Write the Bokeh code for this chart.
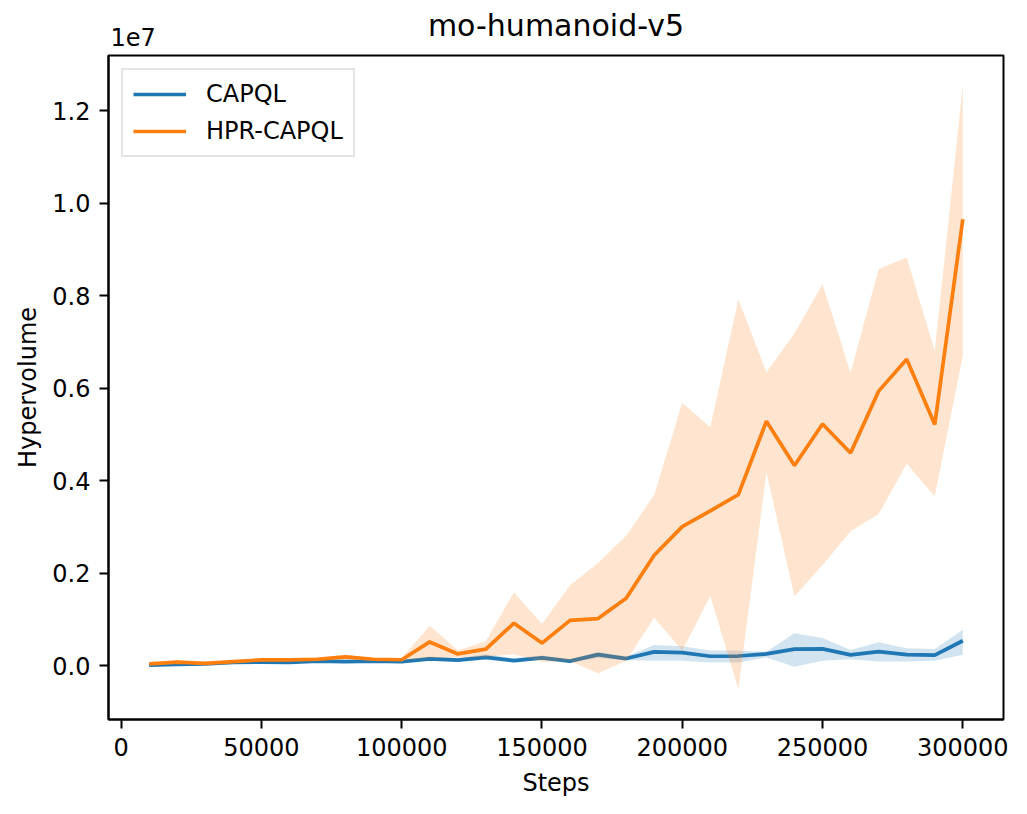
from bokeh.plotting import figure
from bokeh.models import Range1d, FixedTicker, Legend, LegendItem, Title
from bokeh.embed import file_html
from bokeh.resources import INLINE

# ---- data (hypervolume in millions) ----
steps = [10000, 20000, 30000, 40000, 50000, 60000, 70000, 80000, 90000, 100000,
         110000, 120000, 130000, 140000, 150000, 160000, 170000, 180000, 190000, 200000,
         210000, 220000, 230000, 240000, 250000, 260000, 270000, 280000, 290000, 300000]

capql_mean = [0.01, 0.03, 0.04, 0.07, 0.08, 0.07, 0.10, 0.09, 0.10, 0.09,
              0.15, 0.12, 0.18, 0.11, 0.17, 0.10, 0.24, 0.155, 0.30, 0.285,
              0.205, 0.21, 0.255, 0.36, 0.365, 0.235, 0.305, 0.24, 0.23, 0.54]
capql_low = [0.00, 0.01, 0.02, 0.05, 0.06, 0.05, 0.08, 0.07, 0.08, 0.07,
             0.11, 0.09, 0.13, 0.07, 0.13, 0.07, 0.17, 0.12, 0.11, 0.11,
             0.07, 0.07, 0.18, -0.02, 0.11, 0.14, 0.09, 0.09, 0.11, 0.235]
capql_high = [0.02, 0.05, 0.06, 0.09, 0.10, 0.09, 0.12, 0.11, 0.12, 0.11,
              0.20, 0.16, 0.25, 0.16, 0.22, 0.14, 0.30, 0.20, 0.45, 0.42,
              0.33, 0.33, 0.30, 0.70, 0.60, 0.34, 0.51, 0.38, 0.36, 0.78]

hpr_mean = [0.04, 0.08, 0.05, 0.09, 0.125, 0.125, 0.14, 0.19, 0.14, 0.13,
            0.515, 0.255, 0.36, 0.92, 0.49, 0.98, 1.02, 1.46, 2.39, 3.01,
            3.35, 3.70, 5.29, 4.33, 5.23, 4.60, 5.94, 6.63, 5.22, 9.66]
hpr_low = [0.02, 0.04, 0.03, 0.06, 0.09, 0.09, 0.10, 0.14, 0.11, 0.10,
           0.16, 0.18, 0.19, 0.25, 0.08, 0.10, -0.16, 0.10, 1.04, 0.33,
           1.51, -0.51, 4.18, 1.50, 2.18, 2.91, 3.28, 4.37, 3.66, 6.70]
hpr_high = [0.06, 0.12, 0.07, 0.12, 0.16, 0.16, 0.18, 0.24, 0.17, 0.16,
            0.87, 0.33, 0.53, 1.59, 0.905, 1.74, 2.22, 2.81, 3.70, 5.69,
            5.16, 7.93, 6.35, 7.19, 8.25, 6.34, 8.58, 8.83, 6.81, 12.55]

x_ticks = [0, 50000, 100000, 150000, 200000, 250000, 300000]
x_tick_labels = ["0", "50000", "100000", "150000", "200000", "250000", "300000"]
y_ticks = [0, 2, 4, 6, 8, 10, 12]
y_tick_labels = ["0.0", "0.2", "0.4", "0.6", "0.8", "1.0", "1.2"]
y_offset_text = "1e7"

FONT = "DejaVu Sans"
BLUE = "#1f77b4"
ORANGE = "#ff7f0e"

p = figure(frame_width=895, frame_height=664,
           min_border_left=108, min_border_right=15,
           min_border_top=55, min_border_bottom=80,
           x_range=Range1d(-4500, 314500), y_range=Range1d(-1.163, 13.2),
           output_backend="svg", toolbar_location=None,
           title="mo-humanoid-v5")

p.title.align = "center"
p.title.text_font = FONT
p.title.text_font_size = "30px"
p.title.text_font_style = "normal"
p.title.text_color = "black"
p.title.standoff = -55

off_title = Title(text=y_offset_text, align="left", text_font=FONT,
                  text_font_size="24px", text_font_style="normal",
                  text_color="black", standoff=20, offset=2)
p.add_layout(off_title, "above")

p.grid.visible = False
p.outline_line_color = "black"
p.outline_line_width = 2

for ax in (p.xaxis[0], p.yaxis[0]):
    ax.major_label_text_font = FONT
    ax.major_label_text_font_size = "24px"
    ax.major_label_text_color = "black"
    ax.axis_label_text_font = FONT
    ax.axis_label_text_font_size = "24px"
    ax.axis_label_text_font_style = "normal"
    ax.axis_label_text_color = "black"
    ax.major_tick_in = 0
    ax.major_tick_out = 9
    ax.major_tick_line_width = 2
    ax.major_tick_line_color = "black"
    ax.minor_tick_line_color = None
    ax.axis_line_width = 2
    ax.axis_line_color = "black"
    ax.major_label_standoff = 9

p.xaxis.ticker = FixedTicker(ticks=x_ticks)
p.xaxis.major_label_overrides = dict(zip(x_ticks, x_tick_labels))
p.yaxis.ticker = FixedTicker(ticks=y_ticks)
p.yaxis.major_label_overrides = dict(zip(y_ticks, y_tick_labels))
p.xaxis.axis_label = "Steps"
p.yaxis.axis_label = "Hypervolume"
p.xaxis.axis_label_standoff = 10
p.yaxis.axis_label_standoff = 7

p.varea(x=steps, y1=capql_low, y2=capql_high, fill_color=BLUE, fill_alpha=0.2)
l1 = p.line(x=steps, y=capql_mean, line_color=BLUE, line_width=3.7)
p.varea(x=steps, y1=hpr_low, y2=hpr_high, fill_color=ORANGE, fill_alpha=0.2)
l2 = p.line(x=steps, y=hpr_mean, line_color=ORANGE, line_width=3.7)

legend = Legend(items=[LegendItem(label="CAPQL", renderers=[l1]),
                       LegendItem(label="HPR-CAPQL", renderers=[l2])],
                location="top_left", margin=13, padding=10, spacing=9,
                glyph_width=53, glyph_height=24, label_height=24,
                label_standoff=20,
                label_text_font=FONT, label_text_font_size="24px",
                label_text_color="black",
                border_line_color="#cccccc", border_line_width=2,
                background_fill_alpha=0.8)
p.add_layout(legend)

open("out.html", "w").write(file_html(p, INLINE))
